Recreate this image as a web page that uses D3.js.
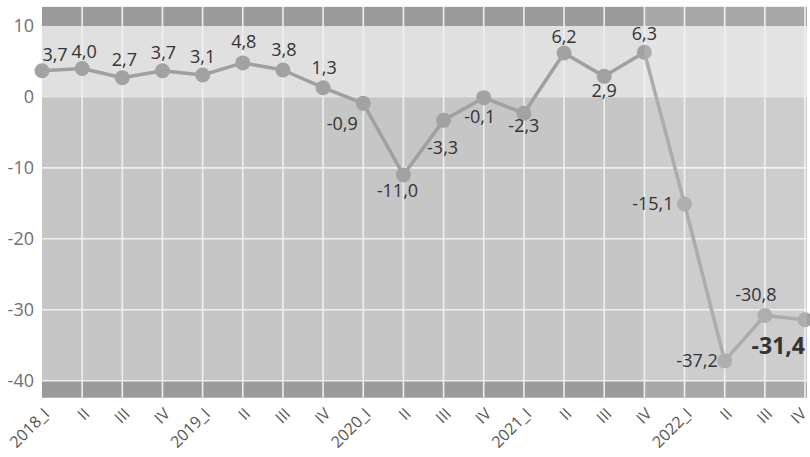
<!DOCTYPE html>
<html>
<head>
<meta charset="utf-8">
<script src="https://cdn.jsdelivr.net/npm/d3@7"></script>
<style>
  html, body { margin: 0; padding: 0; background: #ffffff; }
  svg { display: block; }
</style>
</head>
<body>
<svg id="chart" width="810" height="457"></svg>
<script>
// ---- data ----
const quarters = ["2018 I","2018 II","2018 III","2018 IV","2019 I","2019 II","2019 III","2019 IV",
                  "2020 I","2020 II","2020 III","2020 IV","2021 I","2021 II","2021 III","2021 IV",
                  "2022 I","2022 II","2022 III","2022 IV"];
const tickLabels = ["2018_I","II","III","IV","2019_I","II","III","IV",
                    "2020_I","II","III","IV","2021_I","II","III","IV",
                    "2022_I","II","III","IV"];
const values = [3.7, 4.0, 2.7, 3.7, 3.1, 4.8, 3.8, 1.3,
                -0.9, -11.0, -3.3, -0.1, -2.3, 6.2, 2.9, 6.3,
                -15.1, -37.2, -30.8, -31.4];
const yTicks = [10, 0, -10, -20, -30, -40];
const highlightFrom = "2021 IV";   // lighter shaded period starts here

// ---- label placement (style) ----
const labelDx = [13, 2, 2, 1, 0, 1, 1, 1, -21, -6, -1, -4, 0, 0, 0, 0, -11, -7, -9, 0];
const labelDy = [-10, -11, -12, -12, -12, -15, -14, -14, 27, 22, 34, 25, 19, -10, 21, -12, 6, 6, -14, 34];
const labelAnchor = ["middle","middle","middle","middle","middle","middle","middle","middle",
                     "middle","middle","middle","middle","middle","middle","middle","middle",
                     "end","end","middle","end"];

const svg = d3.select("#chart");
const FONT = "'Open Sans', 'Noto Sans', sans-serif";

const x = d3.scalePoint().domain(quarters).range([42, 805]);
const y = d3.scaleLinear().domain([-40, 10]).range([380.7, 26]);

const plotLeft = 42, plotRight = 807;
const yTopEdge = y(12.7), yBottomEdge = y(-42.4);

const fmt = d3.formatLocale({decimal: ",", thousands: " ", grouping: [3], currency: ["", ""], minus: "-"});
const f1 = fmt.format(".1f");
const f0 = fmt.format("d");

// backgrounds
const bands = [
  {from: 12.7, to: 10, fill: "#9b9b9b"},
  {from: 10, to: 0, fill: "#e0e0e0"},
  {from: 0, to: -40, fill: "#c6c6c6"},
  {from: -40, to: -42.4, fill: "#9b9b9b"}
];
svg.append("g").selectAll("rect").data(bands).join("rect")
  .attr("x", plotLeft).attr("width", plotRight - plotLeft)
  .attr("y", d => y(d.from)).attr("height", d => y(d.to) - y(d.from))
  .attr("fill", d => d.fill);

// horizontal grid
svg.append("g").selectAll("line").data(yTicks.filter(t => t !== 10)).join("line")
  .attr("x1", plotLeft).attr("x2", plotRight)
  .attr("y1", d => y(d)).attr("y2", d => y(d))
  .attr("stroke", "#efefef").attr("stroke-width", d => d === 0 ? 1 : 1.6)
  .attr("stroke-opacity", d => d === 0 ? 0.6 : 1);

// vertical grid
svg.append("g").selectAll("line").data(quarters.slice(1)).join("line")
  .attr("x1", d => x(d)).attr("x2", d => x(d))
  .attr("y1", yTopEdge).attr("y2", yBottomEdge)
  .attr("stroke", "#efefef").attr("stroke-width", 1.6);

// line
const line = d3.line().x((d, i) => x(quarters[i])).y(d => y(d));
svg.append("path").datum(values)
  .attr("d", line).attr("fill", "none")
  .attr("stroke", "#a0a0a0").attr("stroke-width", 3.5).attr("stroke-linejoin", "round");

// markers
svg.append("g").selectAll("circle").data(values).join("circle")
  .attr("cx", (d, i) => x(quarters[i])).attr("cy", d => y(d))
  .attr("r", 7.5).attr("fill", "#a2a2a2");

// lighter overlay for recent period
svg.append("rect")
  .attr("x", x(highlightFrom)).attr("width", plotRight - x(highlightFrom))
  .attr("y", yTopEdge).attr("height", yBottomEdge - yTopEdge)
  .attr("fill", "#ffffff").attr("opacity", 0.13);

// data labels
svg.append("g").selectAll("text").data(values).join("text")
  .attr("x", (d, i) => x(quarters[i]) + labelDx[i])
  .attr("y", (d, i) => y(d) + labelDy[i])
  .attr("text-anchor", (d, i) => labelAnchor[i])
  .attr("font-family", FONT)
  .attr("font-size", (d, i) => i === values.length - 1 ? 23 : 18)
  .attr("font-weight", (d, i) => i === values.length - 1 ? 700 : 400)
  .attr("fill", "#333333")
  .text(d => f1(d));

// y axis
const yAxis = svg.append("g").attr("transform", `translate(${plotLeft},0)`)
  .call(d3.axisLeft(y).tickValues(yTicks).tickSize(0).tickPadding(8).tickFormat(f0));
yAxis.select(".domain").remove();
yAxis.selectAll("text").attr("font-family", FONT).attr("font-size", 18).attr("fill", "#707070");

// x axis
const xAxis = svg.append("g").attr("transform", `translate(0,${yBottomEdge})`)
  .call(d3.axisBottom(x).tickSize(0).tickFormat((d, i) => tickLabels[i]));
xAxis.select(".domain").remove();
xAxis.selectAll("text")
  .attr("font-family", FONT).attr("font-size", 16).attr("fill", "#555555")
  .attr("text-anchor", "end")
  .attr("y", 0).attr("dy", 0)
  .attr("transform", (d, i) => i === quarters.length - 1
        ? "translate(2,17) rotate(-45)" : "translate(8,17) rotate(-45)");
</script>
</body>
</html>
